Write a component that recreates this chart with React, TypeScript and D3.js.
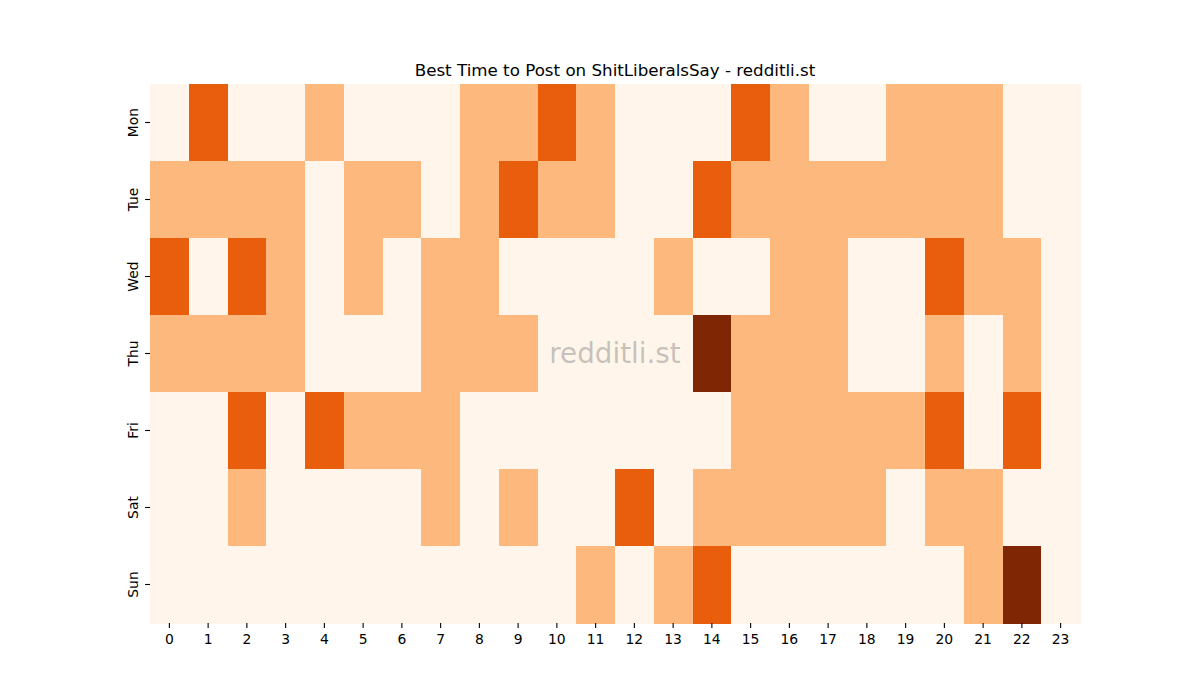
import { useEffect, useRef } from "react";
import { select, scaleBand, scaleOrdinal } from "d3";

const hours = Array.from({ length: 24 }, (_, i) => String(i));
const days = ["Mon", "Tue", "Wed", "Thu", "Fri", "Sat", "Sun"];

// level per hour (0 = none ... 3 = best)
const mon = [0, 2, 0, 0, 1, 0, 0, 0, 1, 1, 2, 1, 0, 0, 0, 2, 1, 0, 0, 1, 1, 1, 0, 0];
const tue = [1, 1, 1, 1, 0, 1, 1, 0, 1, 2, 1, 1, 0, 0, 2, 1, 1, 1, 1, 1, 1, 1, 0, 0];
const wed = [2, 0, 2, 1, 0, 1, 0, 1, 1, 0, 0, 0, 0, 1, 0, 0, 1, 1, 0, 0, 2, 1, 1, 0];
const thu = [1, 1, 1, 1, 0, 0, 0, 1, 1, 1, 0, 0, 0, 0, 3, 1, 1, 1, 0, 0, 1, 0, 1, 0];
const fri = [0, 0, 2, 0, 2, 1, 1, 1, 0, 0, 0, 0, 0, 0, 0, 1, 1, 1, 1, 1, 2, 0, 2, 0];
const sat = [0, 0, 1, 0, 0, 0, 0, 1, 0, 1, 0, 0, 2, 0, 1, 1, 1, 1, 1, 0, 1, 1, 0, 0];
const sun = [0, 0, 0, 0, 0, 0, 0, 0, 0, 0, 0, 1, 0, 1, 2, 0, 0, 0, 0, 0, 0, 1, 3, 0];

const rows = [mon, tue, wed, thu, fri, sat, sun];
const levelColors = ["#fff5eb", "#fdb97d", "#e95e0d", "#7f2704"];

const title = "Best Time to Post on ShitLiberalsSay - redditli.st";
const watermark = "redditli.st";

export default function App() {
  const svgRef = useRef<SVGSVGElement>(null);

  useEffect(() => {
    const svg = select(svgRef.current);
    svg.selectAll("*").remove();

    const width = 1200;
    const height = 700;
    const margin = { left: 150, right: 120, top: 84, bottom: 77 };
    const w = width - margin.left - margin.right;
    const h = height - margin.top - margin.bottom;
    const font = "DejaVu Sans, sans-serif";

    svg.attr("width", width).attr("height", height);
    svg
      .append("rect")
      .attr("width", width)
      .attr("height", height)
      .attr("fill", "#ffffff");

    const g = svg
      .append("g")
      .attr("transform", `translate(${margin.left},${margin.top})`);

    const x = scaleBand<string>().domain(hours).range([0, w]).padding(0);
    const y = scaleBand<string>().domain(days).range([0, h]).padding(0);
    const color = scaleOrdinal<number, string>()
      .domain([0, 1, 2, 3])
      .range(levelColors);

    // --- Cells ---
    const cells = rows.flatMap((vals, r) =>
      vals.map((v, c) => ({ day: days[r], hour: hours[c], v })),
    );
    g.selectAll("rect.cell")
      .data(cells)
      .join("rect")
      .attr("class", "cell")
      .attr("x", (d) => x(d.hour)!)
      .attr("y", (d) => y(d.day)!)
      .attr("width", x.bandwidth() + 0.5)
      .attr("height", y.bandwidth() + 0.5)
      .attr("fill", (d) => color(d.v))
      .attr("shape-rendering", "crispEdges");

    // --- Watermark ---
    g.append("text")
      .attr("x", w / 2)
      .attr("y", h / 2)
      .attr("text-anchor", "middle")
      .attr("dominant-baseline", "central")
      .attr("font-family", font)
      .attr("font-size", 27.8)
      .attr("fill", "#808080")
      .attr("fill-opacity", 0.45)
      .text(watermark);

    // --- X axis ---
    const xt = g
      .append("g")
      .attr("transform", `translate(0,${h})`)
      .selectAll("g")
      .data(hours)
      .join("g")
      .attr("transform", (d) => `translate(${x(d)! + x.bandwidth() / 2},0)`);
    xt.append("line")
      .attr("y2", 4.9)
      .attr("stroke", "#000")
      .attr("stroke-width", 1.1);
    xt.append("text")
      .attr("y", 21)
      .attr("text-anchor", "middle")
      .attr("font-family", font)
      .attr("font-size", 13.9)
      .attr("fill", "#000")
      .text((d) => d);

    // --- Y axis ---
    const yt = g
      .append("g")
      .selectAll("g")
      .data(days)
      .join("g")
      .attr("transform", (d) => `translate(0,${y(d)! + y.bandwidth() / 2})`);
    yt.append("line")
      .attr("x2", -4.9)
      .attr("stroke", "#000")
      .attr("stroke-width", 1.1);
    yt.append("text")
      .attr("transform", "translate(-17,0) rotate(-90)")
      .attr("text-anchor", "middle")
      .attr("dominant-baseline", "central")
      .attr("font-family", font)
      .attr("font-size", 13.9)
      .attr("fill", "#000")
      .text((d) => d);

    // --- Title ---
    svg
      .append("text")
      .attr("x", margin.left + w / 2)
      .attr("y", 76)
      .attr("text-anchor", "middle")
      .attr("font-family", font)
      .attr("font-size", 16.7)
      .attr("fill", "#000")
      .text(title);
  }, []);

  return (
    <div style={{ position: "fixed", left: 0, top: 0 }}>
      <svg ref={svgRef} style={{ display: "block" }} />
    </div>
  );
}
